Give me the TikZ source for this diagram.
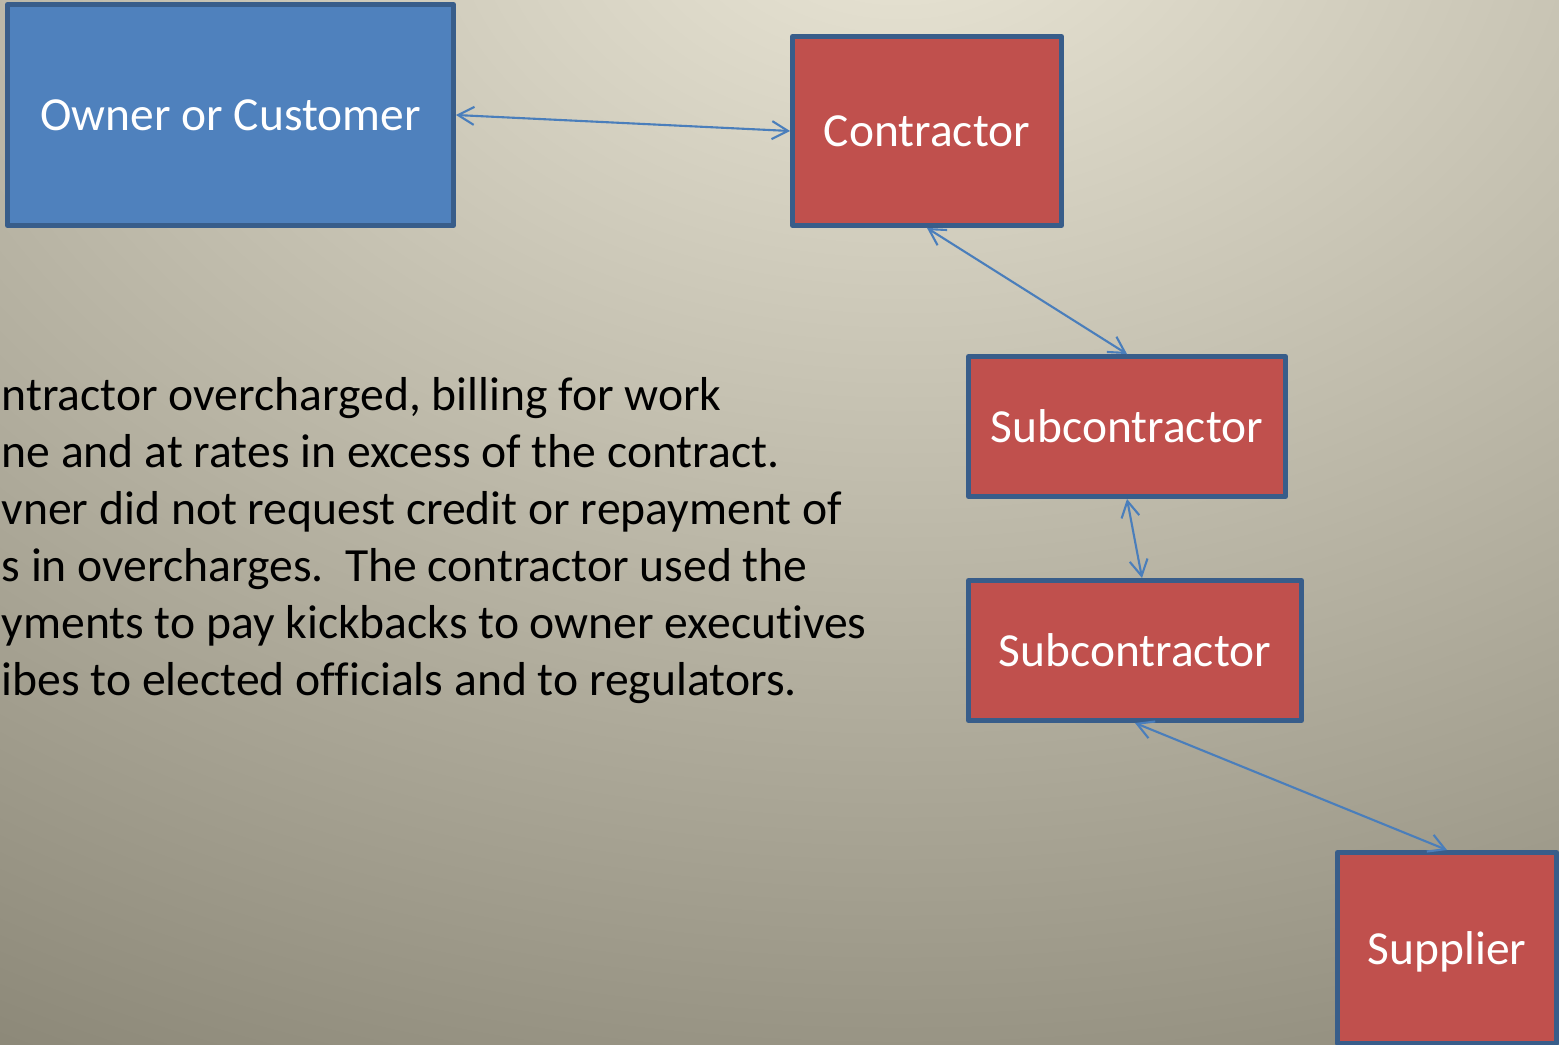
\documentclass[tikz,border=0pt]{standalone}
\usepackage{fontspec}
\setmainfont{Carlito}[Ligatures=NoCommon]
\usetikzlibrary{arrows.meta, positioning}
\definecolor{OwnerBlue}{HTML}{4F81BD}
\definecolor{EdgeBlue}{HTML}{385D8A}
\definecolor{PartyRed}{HTML}{C0504D}
\definecolor{LinkBlue}{HTML}{4A7EBB}
\definecolor{BgLight}{HTML}{EAE6D6}
\definecolor{BgDark}{HTML}{868272}
\pgfdeclareradialshading{bgglow}{\pgfpoint{0bp}{0bp}}{color(0bp)=(BgLight); color(25bp)=(BgDark); color(50bp)=(BgDark)}

\begin{document}
\begin{tikzpicture}[
        box/.style={rectangle, draw=EdgeBlue, line width=1.4pt, line join=round, fill=PartyRed, text=white, text depth=0pt, inner sep=0pt, font=\fontsize{13.5}{16}\selectfont},
        arrow/.style={{Straight Barb[length=1.6mm, width=1.8mm]}-{Straight Barb[length=1.6mm, width=1.8mm]}, line width=0.6pt, LinkBlue}
    ]
        \useasboundingbox (0,0) rectangle (15.59,10.44);
        \clip (0,0) rectangle (15.59,10.44);

        % Background
        \shade[shading=bgglow] (9,11.44) ellipse (20 and 14);

        % Parties
        \node[box, fill=OwnerBlue, minimum width=4.46cm, minimum height=2.21cm] (owner) at (2.305, 9.29) {Owner or Customer};
        \node[box, minimum width=2.69cm, minimum height=1.89cm] (contractor) at (9.27, 9.13) {Contractor};
        \node[box, minimum width=3.17cm, minimum height=1.40cm] (sub1) at (11.27, 6.175) {Subcontractor};
        \node[box, minimum width=3.33cm, minimum height=1.40cm] (sub2) at (11.35, 3.935) {Subcontractor};
        \node[box, minimum width=2.19cm, minimum height=1.91cm] (supplier) at (14.47, 0.96) {Supplier};

        % Links
        \draw[arrow] (owner.east) -- (contractor.west);
        \draw[arrow] (contractor.south) -- (sub1.north);
        \draw[arrow] (sub1.south) -- ([xshift=0.7mm]sub2.north);
        \draw[arrow] (sub2.south) -- (supplier.north);

        % Story (base is the last line)
        \node[anchor=base west, align=left, inner sep=0pt, font=\fontsize{13.55}{16.2}\selectfont] (story) at (0.01, 3.49)
            {ntractor overcharged, billing for work\\
             ne and at rates in excess of the contract.\\
             vner did not request credit or repayment of\\
             s in overcharges.\ \ The contractor used the\\
             yments to pay kickbacks to owner executives\\
             ibes to elected officials and to regulators.};
    \end{tikzpicture}
\end{document}
